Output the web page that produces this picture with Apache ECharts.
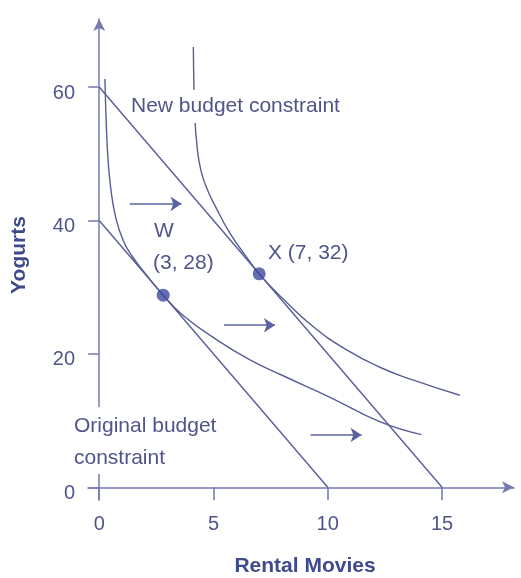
<!DOCTYPE html>
<html>
<head>
<meta charset="utf-8">
<script src="https://cdn.jsdelivr.net/npm/echarts@6/dist/echarts.min.js"></script>
<style>
  html, body { margin: 0; padding: 0; background: #ffffff; }
  #chart { width: 521px; height: 578px; }
</style>
</head>
<body>
<div id="chart"></div>
<script>
// tick labels
const xTicks = [0, 5, 10, 15];
const yTicks = [0, 20, 40, 60];

// budget constraints
const oldBudgetX = [0, 10];
const oldBudgetY = [40, 0];
const newBudgetX = [0, 15];
const newBudgetY = [60, 0];

// indifference curve through W
const curveWX = [0.25, 0.31, 0.38, 0.5, 0.72, 1.05, 1.45, 2.1, 2.8, 3.66, 5.15, 6.6, 8.0, 10.1, 12.3, 14.1];
const curveWY = [61.2, 54.4, 49.5, 45, 40.5, 37, 34.6, 31.7, 28.8, 25.8, 22.1, 19.1, 16.8, 13.5, 9.8, 7.9];

// indifference curve through X
const curveXX = [4.12, 4.14, 4.18, 4.27, 4.45, 4.75, 5.1, 5.72, 6.45, 7.0, 8.0, 9.37, 10.83, 12.28, 13.72, 15.78];
const curveXY = [66.0, 61.0, 56.0, 51.5, 47.5, 44.5, 42.0, 38.1, 34.5, 32.0, 28.4, 24.06, 20.6, 18.0, 16.1, 13.8];

// choice points
const pointX = [2.8, 7];
const pointY = [28.8, 32];

// shift arrows
const arrowFromX = [1.34, 5.46, 9.25];
const arrowToX = [3.6, 7.69, 11.48];
const arrowY = [42.5, 24.3, 7.84];

const lineColor = '#595d96';
const axisColor = '#7479b0';
const textColor = '#50548a';
const font = '21px "Liberation Sans", Arial, sans-serif';

function pairs(xs, ys) {
  return xs.map(function (x, i) { return [x, ys[i]]; });
}

let myChart = echarts.init(document.getElementById('chart'));

let option = {
  animation: false,
  grid: { left: 88, right: 7, top: 19, bottom: 78 },
  xAxis: {
    type: 'value',
    min: -0.49,
    max: 18.15,
    axisLine: {
      onZero: true,
      symbol: ['none', 'arrow'],
      symbolSize: [9, 12],
      lineStyle: { color: axisColor, width: 1.5 }
    },
    axisTick: { customValues: xTicks, length: 13, lineStyle: { color: axisColor, width: 1.5 } },
    axisLabel: {
      customValues: xTicks,
      margin: 14,
      color: textColor,
      fontSize: 20,
      fontFamily: '"Liberation Sans", Arial, sans-serif'
    },
    splitLine: { show: false }
  },
  yAxis: {
    type: 'value',
    min: -1.9,
    max: 70.2,
    axisLine: {
      onZero: true,
      symbol: ['none', 'arrow'],
      symbolSize: [9, 12],
      lineStyle: { color: axisColor, width: 1.5 }
    },
    axisTick: { customValues: yTicks, length: 11, lineStyle: { color: axisColor, width: 1.5 } },
    axisLabel: {
      customValues: yTicks,
      margin: 13,
      verticalAlign: 'top',
      lineHeight: 12,
      color: textColor,
      fontSize: 20,
      fontFamily: '"Liberation Sans", Arial, sans-serif'
    },
    splitLine: { show: false }
  },
  series: [
    {
      type: 'line', data: pairs(oldBudgetX, oldBudgetY), showSymbol: false,
      lineStyle: { color: lineColor, width: 1.4 }
    },
    {
      type: 'line', data: pairs(newBudgetX, newBudgetY), showSymbol: false,
      lineStyle: { color: lineColor, width: 1.4 }
    },
    {
      type: 'line', data: pairs(curveWX, curveWY), showSymbol: false, smooth: 0.5,
      lineStyle: { color: lineColor, width: 1.4 }
    },
    {
      type: 'line', data: pairs(curveXX, curveXY), showSymbol: false, smooth: 0.5,
      lineStyle: { color: lineColor, width: 1.4 }
    },
    {
      type: 'lines',
      coordinateSystem: 'cartesian2d',
      symbol: ['none', 'arrow'],
      symbolSize: 11,
      lineStyle: { color: '#5a62a0', width: 1.6, opacity: 1 },
      data: arrowY.map(function (y, i) {
        return { coords: [[arrowFromX[i], y], [arrowToX[i], y]] };
      })
    },
    {
      type: 'scatter', data: pairs(pointX, pointY), symbolSize: 13,
      itemStyle: { color: '#3c4aa0' }, z: 5
    }
  ],
  graphic: [
    {
      type: 'text', z: 100, x: 131, y: 106.6,
      style: {
        text: 'New budget constraint', font: font, fill: textColor,
        verticalAlign: 'middle', backgroundColor: '#ffffff', padding: [6, 2, 6, 0]
      }
    },
    {
      type: 'text', z: 100, x: 154, y: 231.6,
      style: { text: 'W', font: font, fill: textColor, verticalAlign: 'middle' }
    },
    {
      type: 'text', z: 100, x: 153, y: 263,
      style: { text: '(3, 28)', font: font, fill: textColor, verticalAlign: 'middle' }
    },
    {
      type: 'text', z: 100, x: 268, y: 253,
      style: { text: 'X (7, 32)', font: font, fill: textColor, verticalAlign: 'middle' }
    },
    {
      type: 'text', z: 100, x: 74, y: 407,
      style: {
        text: 'Original budget\nconstraint', font: font, fill: textColor,
        lineHeight: 32, verticalAlign: 'top',
        backgroundColor: '#ffffff', padding: [3, 0, 0, 0]
      }
    },
    {
      type: 'text', z: 100, x: 19, y: 255, rotation: Math.PI / 2,
      style: {
        text: 'Yogurts', font: 'bold 21px "Liberation Sans", Arial, sans-serif',
        fill: '#3f4a8c', align: 'center', verticalAlign: 'middle'
      }
    },
    {
      type: 'text', z: 100, x: 305, y: 566,
      style: {
        text: 'Rental Movies', font: 'bold 21px "Liberation Sans", Arial, sans-serif',
        fill: '#3f4a8c', align: 'center', verticalAlign: 'middle'
      }
    }
  ]
};

myChart.setOption(option);
</script>
</body>
</html>
